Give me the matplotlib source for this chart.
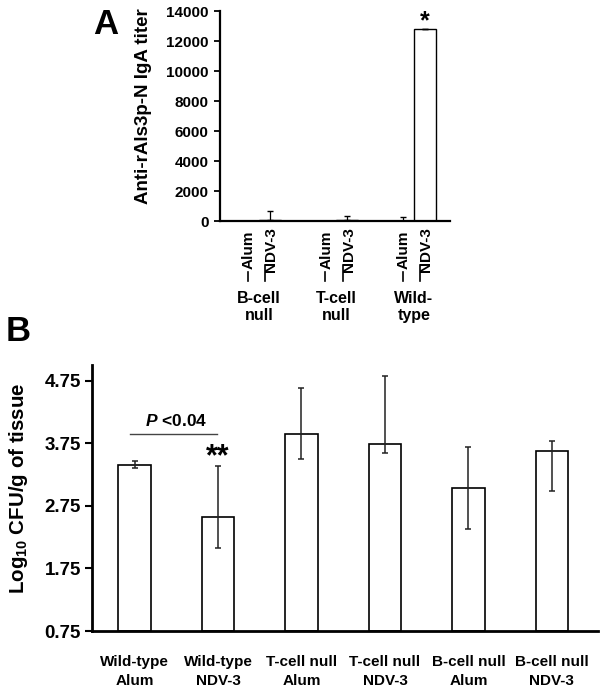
"""Two-panel bar figure: IgA titer (A) and tissue fungal burden (B)"""

import numpy as np
import matplotlib
matplotlib.use('Agg')
import matplotlib.pyplot as plt
import matplotlib.transforms as mtransforms

plt.rcParams['font.family'] = ['Liberation Sans', 'DejaVu Sans']
plt.rcParams['font.weight'] = 'bold'
plt.rcParams['mathtext.fontset'] = 'custom'
plt.rcParams['mathtext.rm'] = 'Liberation Sans:bold'
plt.rcParams['mathtext.bf'] = 'Liberation Sans:bold'
plt.rcParams['mathtext.it'] = 'Liberation Sans:italic:bold'

# Panel A data
groups_a = ['B-cell\nnull', 'T-cell\nnull', 'Wild-\ntype']
vaccines_a = ['Alum', 'NDV-3']
alum_titer = [30, 20, 20]
ndv3_titer = [50, 50, 12800]
alum_titer_err = [0, 0, 250]
ndv3_titer_err = [620, 300, 0]
yticks_a = [0, 2000, 4000, 6000, 8000, 10000, 12000, 14000]

# Panel B data
labels_b = ['Wild-type\nAlum', 'Wild-type\nNDV-3', 'T-cell null\nAlum',
            'T-cell null\nNDV-3', 'B-cell null\nAlum', 'B-cell null\nNDV-3']
cfu = [3.41, 2.57, 3.90, 3.745, 3.03, 3.62]
cfu_upper = [3.47, 3.39, 4.64, 4.83, 3.69, 3.79]
cfu_lower = [3.35, 2.08, 3.50, 3.59, 2.38, 2.98]
yticks_b = [0.75, 1.75, 2.75, 3.75, 4.75]

fig = plt.figure(figsize=(6.02, 6.90), dpi=100)

# ---------------- Panel A ----------------
ax_a = fig.add_axes([0.3654, 0.6797, 0.3821, 0.3043])
group_pos = np.arange(len(groups_a)) * 3.5
alum_pos = group_pos
ndv_pos = group_pos + 1

ax_a.bar(alum_pos, alum_titer, width=1.0, color='white', edgecolor='black', linewidth=1.0)
ax_a.bar(ndv_pos, ndv3_titer, width=1.0, color='white', edgecolor='black', linewidth=1.0)
ax_a.errorbar(alum_pos, alum_titer, yerr=[np.zeros(3), alum_titer_err], fmt='none',
              ecolor='black', elinewidth=0.9, capsize=2)
ax_a.errorbar(ndv_pos, ndv3_titer, yerr=[np.zeros(3), ndv3_titer_err], fmt='none',
              ecolor='black', elinewidth=0.9, capsize=2)

ax_a.set_xlim(-1.25, 9.13)
ax_a.set_ylim(0, 14000)
ax_a.set_yticks(yticks_a)
ax_a.set_yticklabels([str(t) for t in yticks_a], fontsize=11, fontweight='bold')
ax_a.set_xticks([])
ax_a.tick_params(axis='y', direction='out', length=4, width=1.3, pad=4)
for side in ['top', 'right']:
    ax_a.spines[side].set_visible(False)
for side in ['left', 'bottom']:
    ax_a.spines[side].set_linewidth(1.6)
ax_a.set_ylabel('Anti-rAls3p-N IgA titer', fontsize=13.5, fontweight='bold')
ax_a.yaxis.set_label_coords(-0.296, 0.548)

# rotated vaccine labels with small separator marks (multi-level category axis)
trans_a = mtransforms.blended_transform_factory(ax_a.transData, ax_a.transAxes)
for p in alum_pos:
    ax_a.text(p + 0.05, -0.138, vaccines_a[0], transform=trans_a, rotation=90,
              ha='center', va='center', fontsize=11, fontweight='bold')
    ax_a.plot([p, p], [-0.243, -0.286], transform=trans_a,
              color='black', linewidth=1.2, clip_on=False)
for p in ndv_pos:
    ax_a.text(p + 0.05, -0.138, vaccines_a[1], transform=trans_a, rotation=90,
              ha='center', va='center', fontsize=11, fontweight='bold')
    ax_a.plot([p - 0.22, p - 0.22], [-0.21, -0.286], transform=trans_a,
              color='black', linewidth=1.2, clip_on=False)
for g, name in zip(group_pos + 0.5, groups_a):
    ax_a.text(g, -0.335, name, transform=trans_a, ha='center', va='top',
              fontsize=11.5, fontweight='bold', linespacing=1.15)

ax_a.text(ndv_pos[2], 13300, '*', ha='center', va='center', fontsize=18, fontweight='bold')
fig.text(0.176, 0.964, 'A', fontsize=25, fontweight='bold', ha='center', va='center')

# ---------------- Panel B ----------------
ax_b = fig.add_axes([0.1528, 0.0855, 0.8402, 0.3855])
x_b = np.arange(len(labels_b))
cfu_arr = np.array(cfu)
yerr_b = [cfu_arr - np.array(cfu_lower), np.array(cfu_upper) - cfu_arr]

ax_b.bar(x_b, cfu_arr - 0.75, bottom=0.75, width=0.39, color='white',
         edgecolor='black', linewidth=1.2)
ax_b.errorbar(x_b, cfu_arr, yerr=yerr_b, fmt='none', ecolor='#222222',
              elinewidth=1.1, capsize=2.5, capthick=1.1)

ax_b.set_xlim(-0.51, 5.55)
ax_b.set_ylim(0.75, 5.0)
ax_b.set_yticks(yticks_b)
ax_b.set_yticklabels(['%.2f' % t for t in yticks_b], fontsize=13.5, fontweight='bold')
ax_b.set_xticks(x_b)
ax_b.set_xticklabels(labels_b, fontsize=11, fontweight='bold', linespacing=1.45)
ax_b.tick_params(axis='x', length=0, pad=17)
ax_b.tick_params(axis='y', direction='out', length=5, width=1.5, pad=3)
for side in ['top', 'right']:
    ax_b.spines[side].set_visible(False)
for side in ['left', 'bottom']:
    ax_b.spines[side].set_linewidth(2.0)
ax_b.set_ylabel('Log$_{10}$ CFU/g of tissue', fontsize=14.8, fontweight='bold')
ax_b.yaxis.set_label_coords(-0.122, 0.538)

ax_b.plot([x_b[0] - 0.05, x_b[1] - 0.01], [3.89, 3.89], color='#444444', linewidth=1.0)
ax_b.text((x_b[0] + x_b[1]) / 2, 4.10, '$P$ <0.04', ha='center', va='center',
          fontsize=12.5, fontweight='bold')
ax_b.text(x_b[1], 3.53, '**', ha='center', va='center', fontsize=22, fontweight='bold')

fig.text(0.030, 0.520, 'B', fontsize=25, fontweight='bold', ha='center', va='center')

plt.savefig('out.png', dpi=100)
